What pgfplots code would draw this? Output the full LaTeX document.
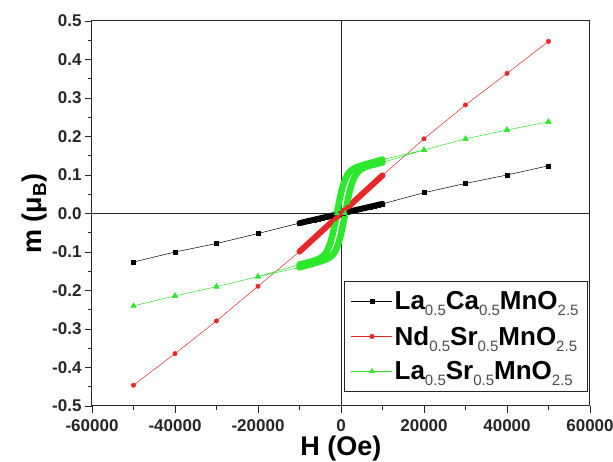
\documentclass[border=0pt]{standalone}
\usepackage{pgfplots}
\pgfplotsset{compat=1.18}
\usepackage{fontspec}
\setmainfont{Liberation Sans}
\definecolor{cred}{RGB}{232,40,40}
\definecolor{cgreen}{RGB}{45,232,45}
\newcommand{\sub}[1]{\raisebox{-6pt}{\fontsize{15}{15}\selectfont\mdseries\color{black!70}#1}}
\begin{document}
\begin{tikzpicture}
\begin{axis}[
  at={(0,0)}, anchor=south west,
  scale only axis, width=498pt, height=385pt,
  xmin=-60000, xmax=60000, ymin=-0.5, ymax=0.5,
  xtick={-60000,-40000,-20000,0,20000,40000,60000},
  ytick={-0.5,-0.4,-0.3,-0.2,-0.1,0,0.1,0.2,0.3,0.4,0.5},
  minor x tick num=1, minor y tick num=1,
  tick align=outside, xtick pos=left, ytick pos=left,
  major tick length=7pt, minor tick length=4pt,
  tick style={black!85, line width=0.8pt},
  /pgf/number format/assume math mode=true,
  xticklabel shift={3pt},
  x tick label style={font=\bfseries\fontsize{17}{17}\selectfont, text=black!85, /pgf/number format/1000 sep={}},
  y tick label style={font=\bfseries\fontsize{17}{17}\selectfont, text=black!85, /pgf/number format/.cd, fixed, fixed zerofill, precision=1},
  scaled x ticks=false,
  xlabel={H (Oe)}, ylabel={m (μ\textsubscript{B})},
  label style={font=\bfseries\fontsize{27}{27}\selectfont},
  xlabel style={yshift=2pt},
  ylabel style={yshift=-2pt},
  axis line style={line width=1pt, black!85},
  legend style={at={(0.996,0.037)}, anchor=south east, font=\bfseries\fontsize{26}{29}\selectfont, draw=black!85, line width=0.9pt, row sep=11pt, inner xsep=7pt, inner ysep=8pt},
  legend image code/.code={\draw[mark repeat=2,mark phase=2] plot coordinates {(0cm,0cm) (0.72cm,0cm) (1.44cm,0cm)};},
  legend cell align=left,
  clip=false,
]
\draw[line width=0.9pt, black!85] (axis cs:0,-0.5) -- (axis cs:0,0.5);
\draw[line width=0.9pt, black!85] (axis cs:-60000,0) -- (axis cs:60000,0);

\addplot[black, line width=6pt, line cap=round, forget plot] coordinates {(-10000,-0.0250) (10000,0.0250)};
\addplot[black, line width=0.5pt, mark=square*, mark size=2pt, mark options={solid}] coordinates {
(-50000,-0.126) (-40000,-0.100) (-30000,-0.078) (-20000,-0.052)
(-10000,-0.0250) (-9500,-0.0238) (-9000,-0.0225) (-8500,-0.0213) (-8000,-0.0200) (-7500,-0.0188) (-7000,-0.0175) (-6500,-0.0163) (-6000,-0.0150) (-5500,-0.0138) (-5000,-0.0125) (-4500,-0.0113) (-4000,-0.0100) (-3500,-0.0088) (-3000,-0.0075) (-2500,-0.0063) (-2000,-0.0050) (-1500,-0.0038) (-1000,-0.0025) (-500,-0.0013) (0,0)
(500,0.0013) (1000,0.0025) (1500,0.0038) (2000,0.0050) (2500,0.0063) (3000,0.0075) (3500,0.0088) (4000,0.0100) (4500,0.0113) (5000,0.0125) (5500,0.0138) (6000,0.0150) (6500,0.0163) (7000,0.0175) (7500,0.0188) (8000,0.0200) (8500,0.0213) (9000,0.0225) (9500,0.0238) (10000,0.0250)
(20000,0.054) (30000,0.078) (40000,0.100) (50000,0.124)
};
\addlegendentry{La\sub{0.5}Ca\sub{0.5}MnO\sub{2.5}}

\addplot[cred, line width=6pt, line cap=round, forget plot] coordinates {(-10000,-0.0990) (10000,0.0990)};
\addplot[cred, line width=0.5pt, mark=*, mark size=2.2pt] coordinates {
(-50000,-0.446) (-40000,-0.364) (-30000,-0.279) (-20000,-0.189)
(-10000,-0.0990) (-9500,-0.0941) (-9000,-0.0891) (-8500,-0.0842) (-8000,-0.0792) (-7500,-0.0743) (-7000,-0.0693) (-6500,-0.0644) (-6000,-0.0594) (-5500,-0.0545) (-5000,-0.0495) (-4500,-0.0446) (-4000,-0.0396) (-3500,-0.0347) (-3000,-0.0297) (-2500,-0.0248) (-2000,-0.0198) (-1500,-0.0149) (-1000,-0.0099) (-500,-0.0050) (0,0)
(500,0.0050) (1000,0.0099) (1500,0.0149) (2000,0.0198) (2500,0.0248) (3000,0.0297) (3500,0.0347) (4000,0.0396) (4500,0.0446) (5000,0.0495) (5500,0.0545) (6000,0.0594) (6500,0.0644) (7000,0.0693) (7500,0.0743) (8000,0.0792) (8500,0.0842) (9000,0.0891) (9500,0.0941) (10000,0.0990)
(20000,0.194) (30000,0.282) (40000,0.364) (50000,0.447)
};
\addlegendentry{Nd\sub{0.5}Sr\sub{0.5}MnO\sub{2.5}}

\addplot[cgreen, line width=6.5pt, line cap=round, line join=round, forget plot] coordinates {
(10000,0.1400) (9000,0.1370) (8000,0.1340) (7000,0.1310) (6000,0.1280) (5000,0.1245) (4500,0.1228) (4000,0.1210) (3500,0.1186) (3000,0.1160) (2500,0.1123) (2000,0.1071) (1500,0.0996) (1000,0.0888) (500,0.0736) (0,0.0533) (-500,0.0282) (-1000,0) (-1500,-0.0282) (-2000,-0.0533) (-2500,-0.0736) (-3000,-0.0888) (-3500,-0.0996) (-4000,-0.1071) (-4500,-0.1123) (-5000,-0.1160) (-6000,-0.1210) (-7000,-0.1245) (-8000,-0.1273) (-9000,-0.1299) (-10000,-0.1325)
};
\addplot[cgreen, line width=6.5pt, line cap=round, line join=round, forget plot] coordinates {
(-10000,-0.1400) (-9000,-0.1370) (-8000,-0.1340) (-7000,-0.1310) (-6000,-0.1280) (-5000,-0.1245) (-4500,-0.1228) (-4000,-0.1210) (-3500,-0.1186) (-3000,-0.1160) (-2500,-0.1123) (-2000,-0.1071) (-1500,-0.0996) (-1000,-0.0888) (-500,-0.0736) (0,-0.0533) (500,-0.0282) (1000,0) (1500,0.0282) (2000,0.0533) (2500,0.0736) (3000,0.0888) (3500,0.0996) (4000,0.1071) (4500,0.1123) (5000,0.1160) (6000,0.1210) (7000,0.1245) (8000,0.1273) (9000,0.1299) (10000,0.1325)
};
\addplot[cgreen, line width=0.5pt, mark=triangle*, mark size=3pt] coordinates {
(50000,0.238) (40000,0.217) (30000,0.194) (20000,0.165)
(10000,0.1400) (9000,0.1370) (8000,0.1340) (7000,0.1310) (6000,0.1280) (5000,0.1245) (4500,0.1228) (4000,0.1210) (3500,0.1186) (3000,0.1160) (2500,0.1123) (2000,0.1071) (1500,0.0996) (1000,0.0888) (500,0.0736) (0,0.0533) (-500,0.0282) (-1000,0) (-1500,-0.0282) (-2000,-0.0533) (-2500,-0.0736) (-3000,-0.0888) (-3500,-0.0996) (-4000,-0.1071) (-4500,-0.1123) (-5000,-0.1160) (-6000,-0.1210) (-7000,-0.1245) (-8000,-0.1273) (-9000,-0.1299) (-10000,-0.1325)
(-20000,-0.164) (-30000,-0.190) (-40000,-0.214) (-50000,-0.240)
(-40000,-0.214) (-30000,-0.190) (-20000,-0.164)
(-10000,-0.1400) (-9000,-0.1370) (-8000,-0.1340) (-7000,-0.1310) (-6000,-0.1280) (-5000,-0.1245) (-4500,-0.1228) (-4000,-0.1210) (-3500,-0.1186) (-3000,-0.1160) (-2500,-0.1123) (-2000,-0.1071) (-1500,-0.0996) (-1000,-0.0888) (-500,-0.0736) (0,-0.0533) (500,-0.0282) (1000,0) (1500,0.0282) (2000,0.0533) (2500,0.0736) (3000,0.0888) (3500,0.0996) (4000,0.1071) (4500,0.1123) (5000,0.1160) (6000,0.1210) (7000,0.1245) (8000,0.1273) (9000,0.1299) (10000,0.1325)
(20000,0.165) (30000,0.194) (40000,0.217) (50000,0.238)
};
\addlegendentry{La\sub{0.5}Sr\sub{0.5}MnO\sub{2.5}}
\end{axis}
\pgfresetboundingbox
\path (-92pt,-56pt) rectangle (521pt,406pt);
\end{tikzpicture}
\end{document}
